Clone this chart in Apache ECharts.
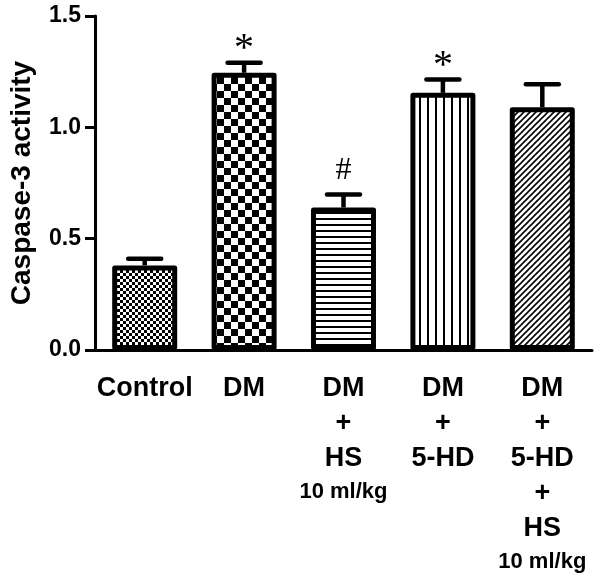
<!DOCTYPE html>
<html>
<head>
<meta charset="utf-8">
<script src="https://cdn.jsdelivr.net/npm/echarts@6/dist/echarts.min.js"></script>
<style>html,body{margin:0;padding:0;background:#fff;}#c{width:602px;height:584px;}</style>
</head>
<body>
<div id="c"></div>
<script>
// ---- data ----
const categories = ['Control', 'DM', 'DM\n+\nHS\n10 ml/kg', 'DM\n+\n5-HD', 'DM\n+\n5-HD\n+\nHS\n10 ml/kg'];
const values = [0.38, 1.245, 0.64, 1.155, 1.09];
const errors = [0.03, 0.045, 0.058, 0.06, 0.103];
const marks = ['', '*', '#', '*', ''];
const yTicks = [0, 0.5, 1.0, 1.5];

// ---- patterns ----
function mk(w, h, draw) {
  const c = document.createElement('canvas');
  c.width = w; c.height = h;
  const g = c.getContext('2d');
  g.fillStyle = '#fff'; g.fillRect(0, 0, w, h);
  g.fillStyle = '#000'; g.strokeStyle = '#000';
  draw(g);
  return { image: c, repeat: 'repeat' };
}
const patterns = [
  mk(6, 6, g => { g.fillRect(0, 0, 3, 3); g.fillRect(3, 3, 3, 3); }),
  mk(14, 14, g => { g.fillRect(0, 0, 7, 7); g.fillRect(7, 7, 7, 7); }),
  mk(6, 6, g => { g.fillRect(0, 2, 6, 2); }),
  mk(8, 8, g => { g.fillRect(3, 0, 2, 8); }),
  mk(6, 6, g => {
    g.lineWidth = 1.6;
    g.beginPath();
    g.moveTo(-1, 7); g.lineTo(7, -1);
    g.moveTo(-1, 1); g.lineTo(1, -1);
    g.moveTo(5, 7); g.lineTo(7, 5);
    g.stroke();
  })
];

const chart = echarts.init(document.getElementById('c'), null, { renderer: 'canvas' });
const font = 'Liberation Sans, Arial, sans-serif';

chart.setOption({
  backgroundColor: '#fff',
  animation: false,
  grid: { left: 92, right: 10, top: 16, bottom: 234, containLabel: false },
  xAxis: {
    type: 'category',
    data: categories,
    boundaryGap: true,
    axisLine: { lineStyle: { color: '#000', width: 3 } },
    axisTick: { alignWithLabel: true, length: 8, lineStyle: { color: '#000', width: 3 } },
    axisLabel: {
      interval: 0,
      margin: 21,
      color: '#000',
      fontFamily: font,
      formatter: v => v.split('\n').map(l => l.indexOf('ml/kg') >= 0 ? '{s|' + l + '}' : '{m|' + l + '}').join('\n'),
      rich: {
        m: { fontSize: 27, fontWeight: 'bold', lineHeight: 35, fontFamily: font, color: '#000' },
        s: { fontSize: 22, fontWeight: 'bold', lineHeight: 32, fontFamily: font, color: '#000' }
      }
    }
  },
  yAxis: {
    type: 'value',
    min: yTicks[0],
    max: yTicks[yTicks.length - 1],
    interval: 0.5,
    name: 'Caspase-3 activity',
    nameLocation: 'middle',
    nameGap: 59,
    nameTextStyle: { fontSize: 28, fontWeight: 'bold', color: '#000', fontFamily: font },
    axisLine: { show: true, lineStyle: { color: '#000', width: 3 } },
    axisTick: { show: true, length: 10, lineStyle: { color: '#000', width: 3 } },
    splitLine: { show: false },
    axisLabel: {
      margin: 14,
      fontSize: 23, fontWeight: 'bold', color: '#000', fontFamily: font,
      formatter: v => v.toFixed(1)
    }
  },
  series: [
    {
      type: 'bar',
      barWidth: 65,
      data: values.map((v, i) => ({
        value: v,
        itemStyle: { color: patterns[i], borderColor: '#000', borderWidth: 5, borderJoin: 'round' }
      })),
      z: 2
    },
    {
      type: 'custom',
      z: 3,
      data: values.map((v, i) => [i, v, errors[i]]),
      renderItem: (params, api) => {
        const i = api.value(0), v = api.value(1), e = api.value(2);
        const m = marks[i];
        const base = api.coord([i, v]);
        const top = api.coord([i, v + e]);
        const x = base[0];
        const st = { stroke: '#000', lineWidth: 4.5, lineCap: 'round' };
        const children = [
          { type: 'line', shape: { x1: x, y1: base[1], x2: x, y2: top[1] }, style: { stroke: '#000', lineWidth: 4.5 } },
          { type: 'line', shape: { x1: x - 16.5, y1: top[1], x2: x + 16.5, y2: top[1] }, style: st }
        ];
        if (m) {
          children.push({
            type: 'text',
            style: {
              text: m, x: x, y: top[1] - (m === '*' ? 13 : 24),
              align: 'center', verticalAlign: 'middle',
              fontSize: m === '*' ? 40 : 32, fontFamily: 'Liberation Serif, Times New Roman, serif',
              fill: '#000'
            }
          });
        }
        return { type: 'group', children: children };
      }
    }
  ]
});
</script>
</body>
</html>
